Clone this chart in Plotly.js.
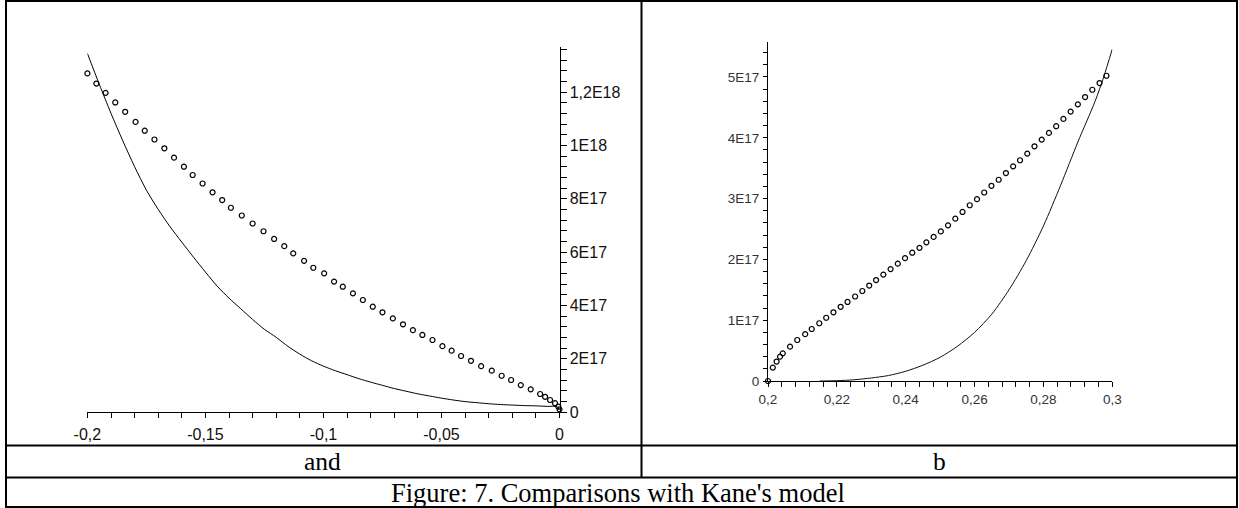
<!DOCTYPE html>
<html>
<head>
<meta charset="utf-8">
<script src="https://cdn.plot.ly/plotly-3.0.1.min.js"></script>
<style>
html,body{margin:0;padding:0;background:#fff;}
#chart{width:1239px;height:508px;}
</style>
</head>
<body>
<div id="chart"></div>
<script>
// ---- Panel "and" (left): Kane's model curve (solid line) ----
const leftLineX = [-0.200,-0.195,-0.190,-0.185,-0.180,-0.175,-0.170,-0.165,-0.160,-0.155,-0.150,-0.145,-0.140,-0.135,-0.130,-0.125,-0.120,-0.115,-0.110,-0.105,-0.100,-0.095,-0.090,-0.085,-0.080,-0.075,-0.070,-0.065,-0.060,-0.055,-0.050,-0.045,-0.040,-0.035,-0.030,-0.025,-0.020,-0.015,-0.010,-0.005,-0.001,0];
const leftLineY = [13.45e17,12.3e17,11.2e17,10.17e17,9.2e17,8.32e17,7.6e17,6.95e17,6.37e17,5.8e17,5.25e17,4.72e17,4.27e17,3.87e17,3.47e17,3.1e17,2.8e17,2.46e17,2.17e17,1.92e17,1.72e17,1.55e17,1.4e17,1.25e17,1.12e17,1.0e17,0.88e17,0.78e17,0.68e17,0.60e17,0.52e17,0.45e17,0.39e17,0.35e17,0.31e17,0.28e17,0.26e17,0.24e17,0.23e17,0.21e17,0.20e17,0.06e17];

// ---- Panel "and" (left): comparison points (open circles) ----
const leftPtsX = [-0.2000,-0.1962,-0.1923,-0.1882,-0.1840,-0.1796,-0.1757,-0.1716,-0.1674,-0.1633,-0.1591,-0.1554,-0.1512,-0.1470,-0.1429,-0.1392,-0.1346,-0.1300,-0.1254,-0.1209,-0.1166,-0.1128,-0.1082,-0.1043,-0.0997,-0.0955,-0.0918,-0.0875,-0.0833,-0.0791,-0.0750,-0.0706,-0.0663,-0.0621,-0.0581,-0.0538,-0.0496,-0.0457,-0.0417,-0.0375,-0.0332,-0.0287,-0.0245,-0.0205,-0.0164,-0.0122,-0.0082,-0.0061,-0.0040,-0.0019,-0.0005,0];
const leftPtsY = [12.7e17,12.32e17,11.97e17,11.61e17,11.26e17,10.88e17,10.55e17,10.22e17,9.89e17,9.54e17,9.2e17,8.89e17,8.57e17,8.24e17,7.95e17,7.66e17,7.37e17,7.07e17,6.78e17,6.49e17,6.22e17,5.95e17,5.67e17,5.41e17,5.2e17,4.89e17,4.7e17,4.45e17,4.2e17,3.95e17,3.74e17,3.51e17,3.29e17,3.07e17,2.89e17,2.7e17,2.47e17,2.3e17,2.1e17,1.92e17,1.72e17,1.55e17,1.36e17,1.2e17,1.01e17,0.85e17,0.675e17,0.57e17,0.45e17,0.33e17,0.2e17,0.1e17];

// ---- Panel "b" (right): Kane's model curve ----
const rightLineX = [0.215,0.220,0.225,0.230,0.235,0.240,0.245,0.250,0.255,0.260,0.265,0.270,0.275,0.280,0.285,0.290,0.295,0.2975,0.300];
const rightLineY = [0.0,0.005e17,0.02e17,0.05e17,0.09e17,0.16e17,0.26e17,0.39e17,0.57e17,0.80e17,1.10e17,1.50e17,1.98e17,2.55e17,3.22e17,3.93e17,4.60e17,5.0e17,5.46e17];

// ---- Panel "b" (right): comparison points ----
const rightPtsX = [0.2000,0.2014,0.2025,0.2035,0.2043,0.2064,0.2085,0.2108,0.2127,0.2149,0.2169,0.2190,0.2211,0.2231,0.2253,0.2274,0.2294,0.2314,0.2335,0.2356,0.2377,0.2398,0.2419,0.2440,0.2460,0.2481,0.2502,0.2523,0.2544,0.2565,0.2586,0.2607,0.2628,0.2649,0.2670,0.2691,0.2712,0.2732,0.2753,0.2774,0.2795,0.2816,0.2837,0.2858,0.2879,0.2900,0.2921,0.2942,0.2963,0.2983,0.3004];
const rightPtsY = [0.0,0.22e17,0.32e17,0.40e17,0.455e17,0.565e17,0.674e17,0.77e17,0.855e17,0.95e17,1.04e17,1.13e17,1.22e17,1.30e17,1.39e17,1.48e17,1.57e17,1.66e17,1.75e17,1.84e17,1.93e17,2.02e17,2.11e17,2.19e17,2.28e17,2.37e17,2.46e17,2.56e17,2.67e17,2.78e17,2.89e17,2.99e17,3.10e17,3.21e17,3.31e17,3.42e17,3.53e17,3.63e17,3.74e17,3.86e17,3.97e17,4.08e17,4.19e17,4.31e17,4.43e17,4.55e17,4.67e17,4.79e17,4.90e17,5.02e17,5.14e17];

// ---- Tick labels ----
const leftXTicks = [-0.2,-0.15,-0.1,-0.05,0];
const leftXLabels = ['-0,2','-0,15','-0,1','-0,05','0'];
const leftYTicks = [0,2e17,4e17,6e17,8e17,1e18,1.2e18];
const leftYLabels = ['0','2E17','4E17','6E17','8E17','1E18','1,2E18'];
const rightXTicks = [0.2,0.22,0.24,0.26,0.28,0.3];
const rightXLabels = ['0,2','0,22','0,24','0,26','0,28','0,3'];
const rightYTicks = [0,1e17,2e17,3e17,4e17,5e17];
const rightYLabels = ['0','1E17','2E17','3E17','4E17','5E17'];

// ---- Captions ----
const captionLeft = 'and';
const captionRight = 'b';
const captionFigure = "Figure: 7. Comparisons with Kane's model";

const W = 1239, H = 508;
const px = v => v / W;
const py = v => 1 - v / H;

const markerStyle = {symbol:'circle-open', size:5, color:'#000', line:{width:1.2, color:'#000'}};

const traces = [
  {x:leftLineX, y:leftLineY, mode:'lines', line:{color:'#000', width:1, shape:'spline', smoothing:0.8}, xaxis:'x', yaxis:'y', hoverinfo:'skip'},
  {x:leftPtsX, y:leftPtsY, mode:'markers', marker:markerStyle, xaxis:'x', yaxis:'y', cliponaxis:false, hoverinfo:'skip'},
  {x:rightLineX, y:rightLineY, mode:'lines', line:{color:'#111', width:1, shape:'spline', smoothing:0.8}, xaxis:'x2', yaxis:'y2', hoverinfo:'skip'},
  {x:rightPtsX, y:rightPtsY, mode:'markers', marker:markerStyle, xaxis:'x2', yaxis:'y2', cliponaxis:false, hoverinfo:'skip'}
];

const fontL = {family:'"Liberation Sans", Arial, sans-serif', size:16, color:'#111'};
const fontR = {family:'"Liberation Sans", Arial, sans-serif', size:13.5, color:'#333'};

const axCommon = {showgrid:false, zeroline:false, showline:true, linecolor:'#000', linewidth:1,
  ticks:'outside', tickcolor:'#000', tickwidth:1, tickmode:'array', fixedrange:true};

const layout = {
  width:W, height:H, margin:{l:0,r:0,t:0,b:0},
  paper_bgcolor:'#fff', plot_bgcolor:'rgba(0,0,0,0)', showlegend:false,
  xaxis: Object.assign({}, axCommon, {
    domain:[px(87.4), px(559.5)], range:[-0.2, 0], anchor:'y',
    tickvals:leftXTicks, ticktext:leftXLabels, ticklen:5, tickfont:fontL, ticklabelstandoff:3,
    minor:{tickmode:'linear', tick0:0, dtick:0.01, ticks:'outside', ticklen:5, tickcolor:'#000', showgrid:false}
  }),
  yaxis: Object.assign({}, axCommon, {
    domain:[py(412), py(47)], range:[0, 1.369e18], anchor:'x', side:'right',
    tickvals:leftYTicks, ticktext:leftYLabels, ticklen:6, tickfont:fontL, ticklabelstandoff:0,
    minor:{tickmode:'linear', tick0:0, dtick:4e16, ticks:'outside', ticklen:6, tickcolor:'#000', showgrid:false}
  }),
  xaxis2: Object.assign({}, axCommon, {
    domain:[px(768), px(1112.3)], range:[0.2, 0.3], anchor:'y2',
    tickvals:rightXTicks, ticktext:rightXLabels, ticklen:5, tickfont:fontR, ticklabelstandoff:1,
    minor:{tickmode:'linear', tick0:0.2, dtick:0.004, ticks:'outside', ticklen:5, tickcolor:'#000', showgrid:false}
  }),
  yaxis2: Object.assign({}, axCommon, {
    domain:[py(381), py(42.3)], range:[0, 5.57e17], anchor:'x2', side:'left',
    tickvals:rightYTicks, ticktext:rightYLabels, ticklen:4, tickfont:fontR, ticklabelstandoff:1,
    minor:{tickmode:'linear', tick0:0, dtick:2e16, ticks:'outside', ticklen:4, tickcolor:'#000', showgrid:false}
  }),
  shapes: [
    {type:'rect', xref:'paper', yref:'paper', x0:px(6), x1:px(1237), y0:py(507), y1:py(1), line:{color:'#000', width:2}},
    {type:'line', xref:'paper', yref:'paper', x0:px(641.5), x1:px(641.5), y0:py(1), y1:py(477.5), line:{color:'#000', width:2}},
    {type:'line', xref:'paper', yref:'paper', x0:px(6), x1:px(1237), y0:py(445.5), y1:py(445.5), line:{color:'#000', width:2}},
    {type:'line', xref:'paper', yref:'paper', x0:px(6), x1:px(1237), y0:py(477.5), y1:py(477.5), line:{color:'#000', width:2}}
  ],
  annotations: [
    {xref:'paper', yref:'paper', x:px(322), y:py(461), text:captionLeft, showarrow:false, xanchor:'center', yanchor:'middle',
     font:{family:'"Liberation Serif", "Times New Roman", serif', size:25.5, color:'#000'}},
    {xref:'paper', yref:'paper', x:px(939), y:py(461), text:captionRight, showarrow:false, xanchor:'center', yanchor:'middle',
     font:{family:'"Liberation Serif", "Times New Roman", serif', size:25.5, color:'#000'}},
    {xref:'paper', yref:'paper', x:px(618), y:py(493), text:captionFigure, showarrow:false, xanchor:'center', yanchor:'middle',
     font:{family:'"Liberation Serif", "Times New Roman", serif', size:26.5, color:'#000'}}
  ]
};

Plotly.newPlot('chart', traces, layout, {staticPlot:true, displayModeBar:false});
</script>
</body>
</html>
